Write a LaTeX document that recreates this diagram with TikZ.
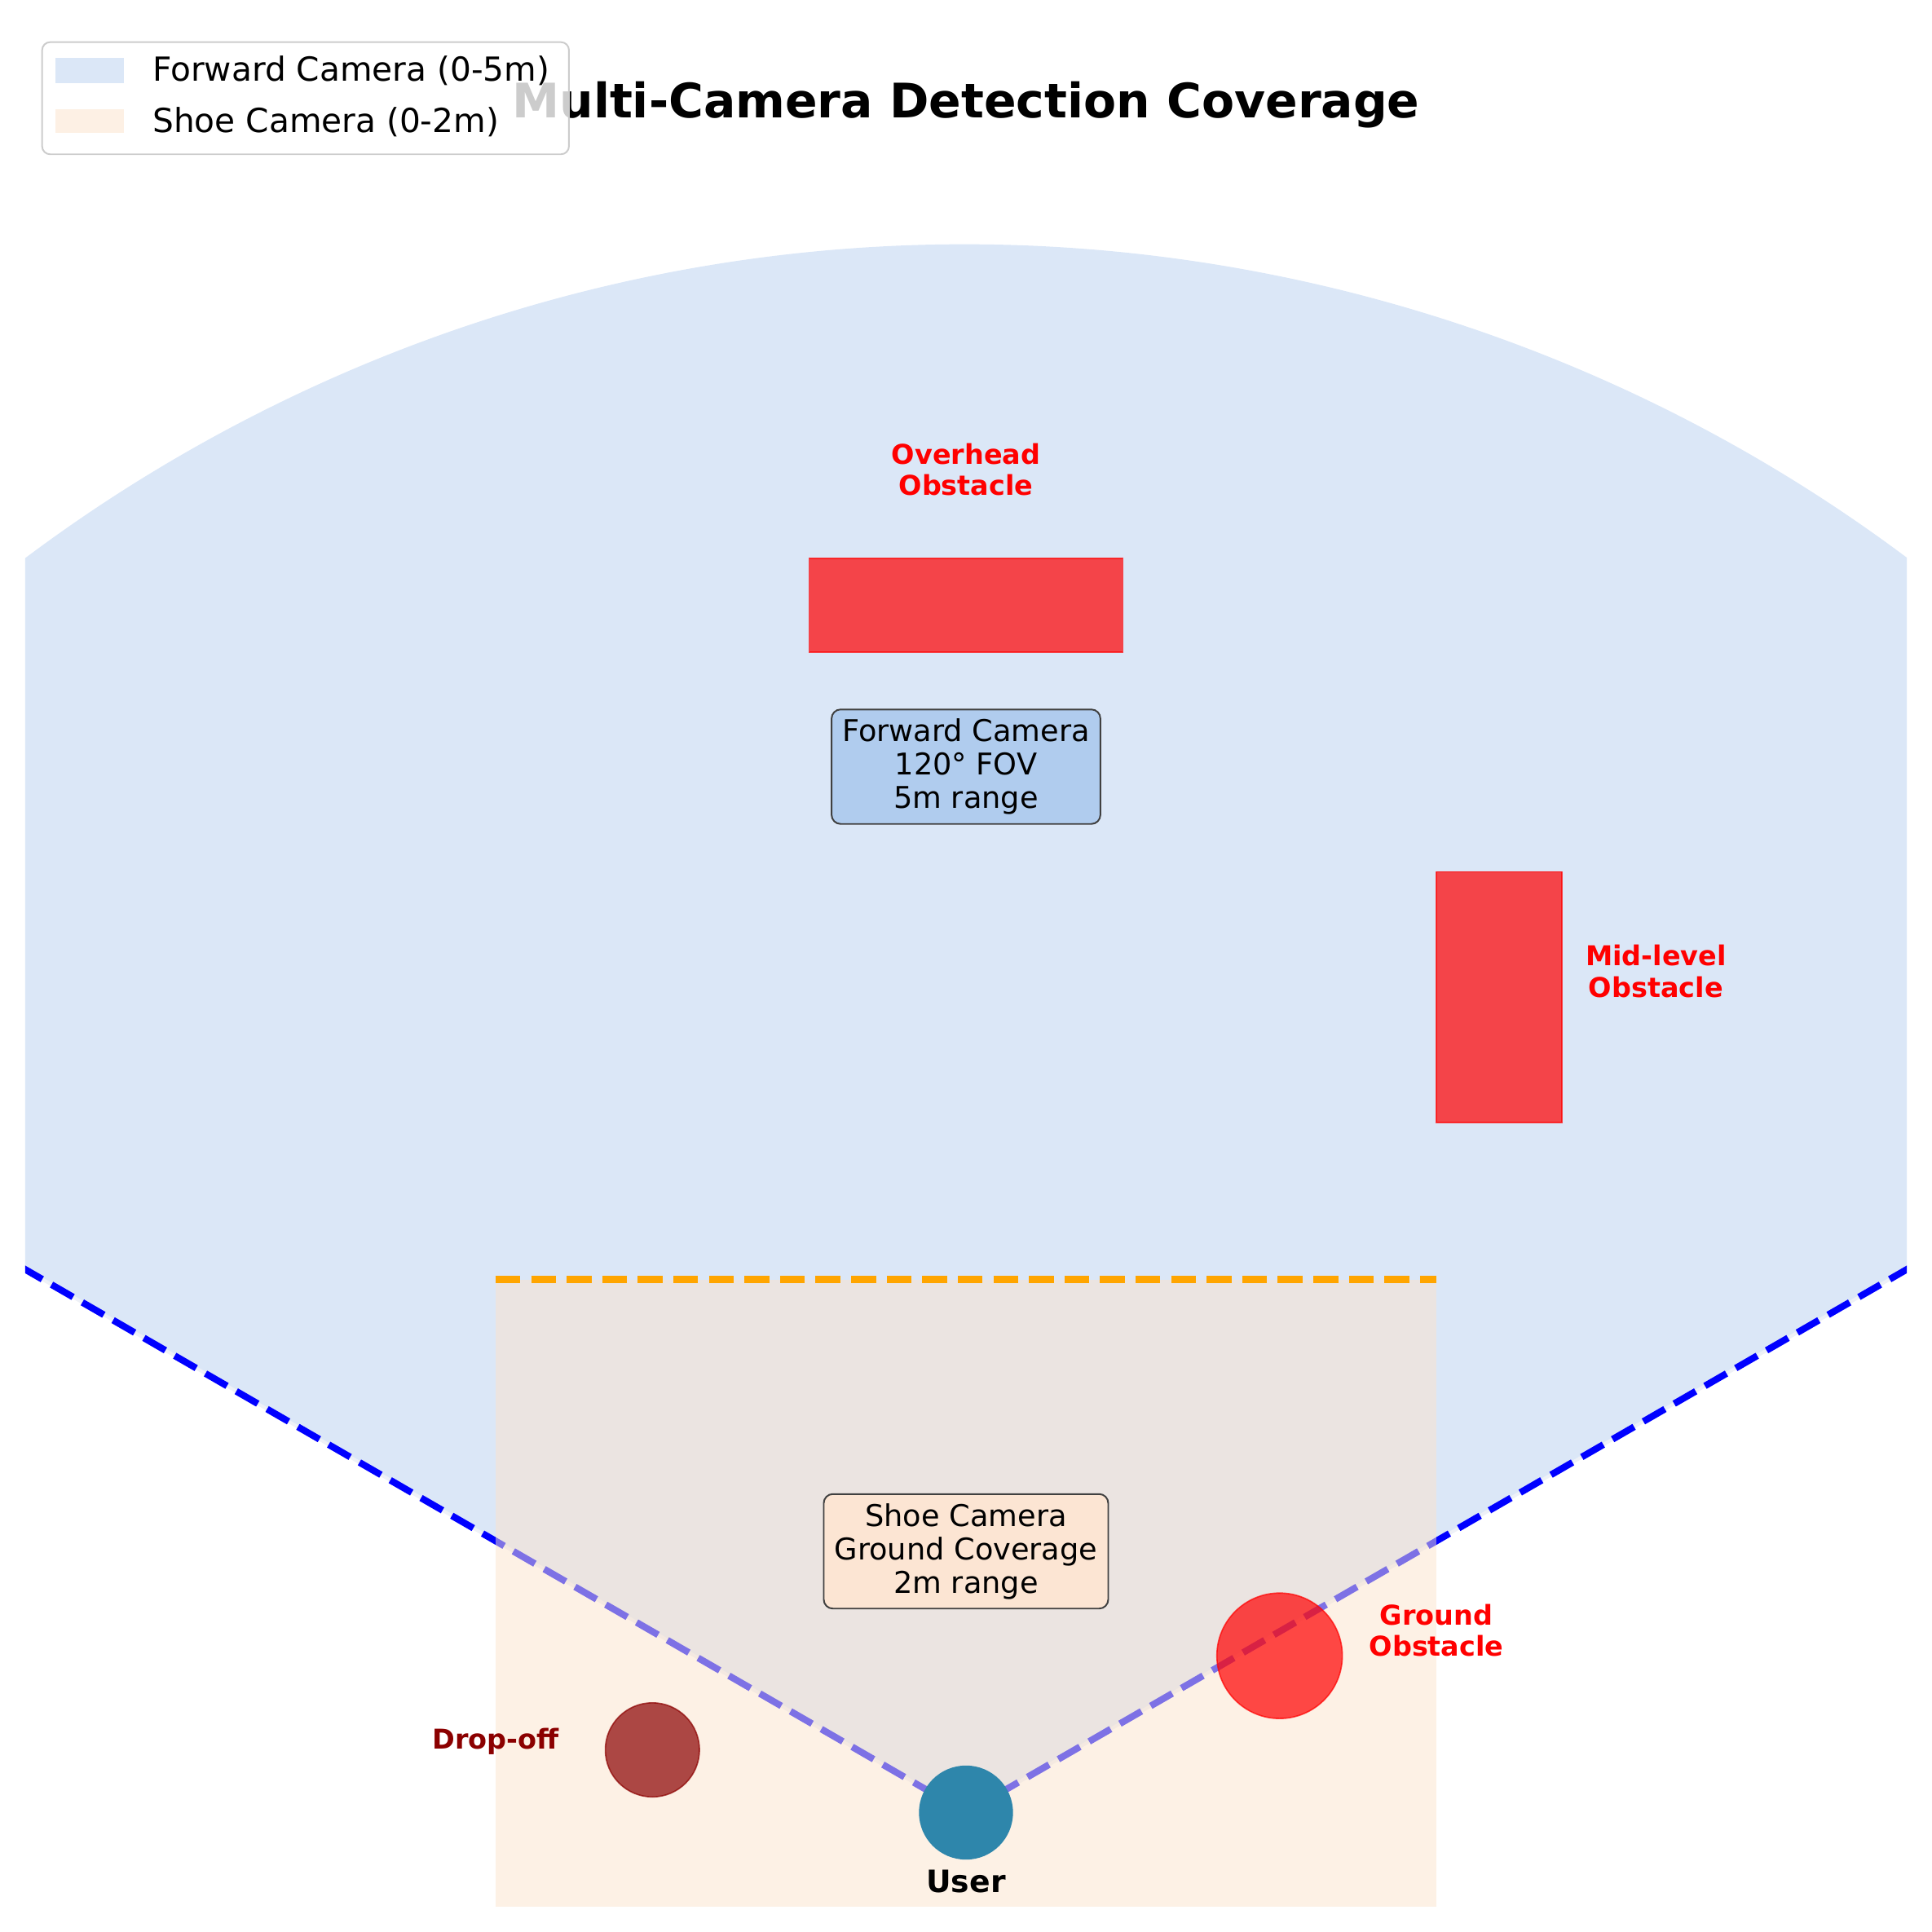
\documentclass[tikz,border=0pt]{standalone}
\usepackage{fontspec}
\setmainfont{DejaVu Sans}
\definecolor{fwdfill}{RGB}{219,231,247}
\definecolor{shoefill}{RGB}{251,227,204}
\definecolor{shoepatch}{RGB}{253,240,228}
\definecolor{fwdboxcol}{RGB}{176,204,238}
\definecolor{shoeboxcol}{RGB}{252,229,211}
\definecolor{usercol}{RGB}{46,134,171}
\definecolor{dropred}{RGB}{139,0,0}
\definecolor{rangeorange}{RGB}{255,165,0}
\definecolor{wedgeedge}{RGB}{238,241,247}
\begin{document}
\begin{tikzpicture}[
    x=4.1229cm, y=4.1229cm,
    fov line/.style={draw=blue, line width=2.5bp, dash pattern=on 9.25bp off 4bp},
    range line/.style={draw=rangeorange, line width=2.5bp, dash pattern=on 9.25bp off 4bp},
    obstacle/.style={fill=red, fill opacity=0.7, draw=red, draw opacity=0.7, line width=0.5bp},
    infobox/.style={draw=black!75, line width=0.6bp, rounded corners=3.4pt, align=center,
                    inner xsep=4pt, inner ysep=3.5pt, font=\fontsize{11.2}{12.5}\selectfont},
    warnlabel/.style={text=red, align=center, font=\fontsize{10.2}{11.7}\selectfont\bfseries},
    legendtext/.style={anchor=base west, inner sep=0pt, font=\fontsize{12.4}{14}\selectfont},
]
\useasboundingbox (-3.0803,-0.3808) rectangle (3.0803,5.7798);
\coordinate (user) at (0,0);
\coordinate (fovL) at (150:5);
\coordinate (fovR) at (30:5);

% forward camera field of view, clipped to the plot area
\begin{scope}
    \clip (-3,-0.3) rectangle (3,5.7);
    \fill[fwdfill] (user) -- (fovR) arc[start angle=30, end angle=150, radius=5] -- cycle;
    \draw[wedgeedge, line width=1.2bp] (fovL) -- (user) -- (fovR);
    \draw[fov line] (user) -- (fovL);
    \draw[fov line] (user) -- (fovR);
\end{scope}

% shoe camera ground zone
\fill[shoefill, fill opacity=0.5] (-1.5,-0.3) rectangle (1.5,1.7);
\draw[range line] (-1.5,1.7) -- (1.5,1.7);

% obstacles
\draw[obstacle] (-0.5,3.7) rectangle (0.5,4.0);
\draw[obstacle] (1.5,2.2) rectangle (1.9,3.0);
\draw[obstacle] (1,0.5) circle[radius=0.2];
\draw[obstacle, fill=dropred, draw=dropred] (-1,0.2) circle[radius=0.15];
\fill[usercol] (user) circle[radius=0.15];

% labels
\node[warnlabel] (overheadlbl) at (0,4.2826) {Overhead\\Obstacle};
\node[warnlabel] (midlbl) at (2.2,2.6826) {Mid-level\\Obstacle};
\node[warnlabel] (groundlbl) at (1.5,0.581) {Ground\\Obstacle};
\node[warnlabel, text=dropred, anchor=base] (droplbl) at (-1.5,0.2015) {Drop-off};
\node[anchor=base, font=\fontsize{11.5}{13}\selectfont\bfseries] (userlbl) at (0,-0.2553) {User};

\node[infobox, fill=fwdboxcol] (fwdbox) at (0,3.335) {Forward Camera\\120° FOV\\5m range};
\node[infobox, fill=shoeboxcol] (shoebox) at (0,0.8331) {Shoe Camera\\Ground Coverage\\2m range};

\node[anchor=base, font=\fontsize{17.8}{20}\selectfont\bfseries] (title) at (0,5.403) {Multi-Camera Detection Coverage};

% legend
\draw[fill=white, fill opacity=0.8, draw=black!20, line width=0.6bp, rounded corners=3pt]
    (-2.946,5.2878) rectangle (-1.266,5.6454);
\fill[fwdfill] (-2.9028,5.5155) rectangle (-2.686,5.5953);
\fill[shoepatch] (-2.9028,5.3553) rectangle (-2.686,5.4315);
\node[legendtext] (fwdkey) at (-2.595,5.5199) {Forward Camera (0-5m)};
\node[legendtext] (shoekey) at (-2.595,5.3569) {Shoe Camera (0-2m)};
\end{tikzpicture}
\end{document}
